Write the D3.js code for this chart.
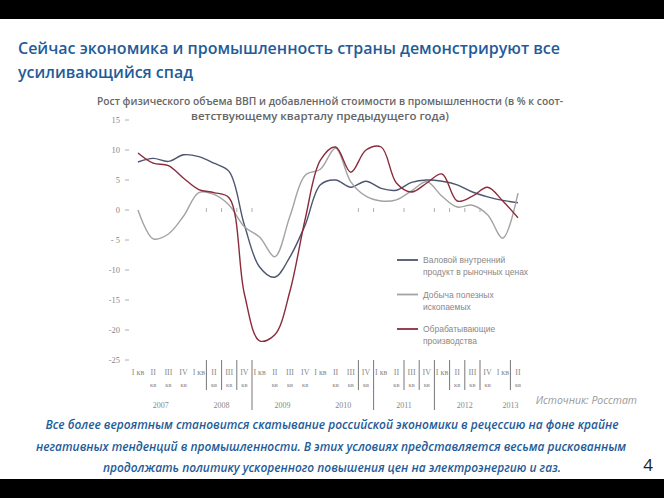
<!DOCTYPE html>
<html><head><meta charset="utf-8">
<script src="https://cdn.jsdelivr.net/npm/d3@7"></script>
<style>body{margin:0;background:#fff}svg{display:block}</style>
</head><body>
<svg id="c" width="664" height="498"></svg>
<script>
// ---------- data ----------
const quarters = ["I кв","II","III","IV","I кв","II","III","IV","I кв","II","III","IV","I кв","II","III","IV","I кв","II","III","IV","I кв","II","III","IV","I кв","II"];
const quarterSub = ["","кв","кв","кв","","кв","кв","кв","","кв","кв","кв","","кв","кв","кв","","кв","кв","кв","","кв","кв","кв","","кв"];
const years = ["2007","2008","2009","2010","2011","2012","2013"];
const gdp = [8.0,8.6,8.1,9.2,8.9,7.8,6.4,-2.5,-9.5,-11.2,-7.8,-2.5,4.2,5.0,3.8,4.8,3.6,3.3,4.6,5.0,4.8,4.2,3.0,2.2,1.6,1.2];
const mining = [0.0,-4.8,-4.0,-1.0,2.9,2.6,0.8,-2.8,-4.5,-7.8,-1.0,5.8,6.8,10.3,4.7,2.3,1.5,1.7,3.2,4.7,2.3,0.5,0.8,-0.8,-4.7,2.8];
const manuf = [9.5,7.8,7.4,5.3,3.4,2.9,2.0,-14.0,-21.8,-20.8,-13.5,-1.5,8.3,10.5,6.3,10.0,10.5,4.5,3.0,4.5,6.0,1.5,2.3,3.8,1.5,-1.3];
const seriesNames = [["Валовой внутренний","продукт в рыночных ценах"],["Добыча полезных","ископаемых"],["Обрабатывающие","производства"]];
const yTicks = [15,10,5,0,-5,-10,-15,-20,-25];
const yTickLabels = ["15","10","5","0","- 5","-10","-15","-20","-25"];
const separatorsAfter = [4,5,6,7,14,15,17,18,19,20,21,22,24];
const zeroTicksAfter = [4,5,6,7,14,15,17,19,20,21,22];

// ---------- layout ----------
const svg = d3.select("#c");
const W = 664, H = 498;
const blue = "#1f5c99";
const colors = ["#4d5570","#a3a3a3","#8a2c3c"];

svg.append("rect").attr("x",0).attr("y",0).attr("width",W).attr("height",19).attr("fill","#000");
svg.append("rect").attr("x",0).attr("y",479).attr("width",W).attr("height",19).attr("fill","#000");

const x = d3.scaleLinear().domain([0,quarters.length-1]).range([138,518]);
const y = d3.scaleLinear().domain([-25,15]).range([360,120]);

// titles
const title = svg.append("g").attr("font-family","'Open Sans', sans-serif").attr("font-weight",600).attr("fill",blue).attr("font-size",17);
title.append("text").attr("x",18).attr("y",54).attr("textLength",542).attr("lengthAdjust","spacingAndGlyphs").text("Сейчас экономика и промышленность страны демонстрируют все");
title.append("text").attr("x",18).attr("y",78).attr("textLength",175).attr("lengthAdjust","spacingAndGlyphs").text("усиливающийся спад");

const sub = svg.append("g").attr("font-family","'Open Sans', sans-serif").attr("font-weight",600).attr("fill","#666").attr("font-size",10.5);
sub.append("text").attr("x",97).attr("y",105).attr("textLength",466).attr("lengthAdjust","spacingAndGlyphs").text("Рост физического объема ВВП и добавленной стоимости в промышленности (в % к соот-");
sub.append("text").attr("x",191).attr("y",120).attr("textLength",258).attr("lengthAdjust","spacingAndGlyphs").text("ветствующему кварталу предыдущего года)");

// y axis
const ya = svg.append("g").attr("font-family","'Liberation Serif', serif").attr("font-size",8.5).attr("fill","#888");
yTicks.forEach((t,i)=>{
  ya.append("text").attr("x",120).attr("y",y(t)+3).attr("text-anchor","end").text(yTickLabels[i]);
  ya.append("line").attr("x1",125).attr("x2",129).attr("y1",y(t)).attr("y2",y(t)).attr("stroke","#999").attr("stroke-width",0.8);
});

// zero ticks
zeroTicksAfter.forEach(i=>{
  svg.append("line").attr("x1",x(i+0.5)).attr("x2",x(i+0.5)).attr("y1",y(0)-2).attr("y2",y(0)+2).attr("stroke","#999").attr("stroke-width",0.8);
});

// lines
const line = d3.line().x((d,i)=>x(i)).y(d=>y(d)).curve(d3.curveCatmullRom.alpha(0.5));
[gdp,mining,manuf].forEach((s,k)=>{
  svg.append("path").attr("d",line(s)).attr("fill","none").attr("stroke",colors[k]).attr("stroke-width",1.4);
});

// legend
const lg = svg.append("g").attr("font-family","'Liberation Sans', sans-serif").attr("font-size",8.5).attr("fill","#888");
seriesNames.forEach((nm,k)=>{
  const ly = 260 + k*34.5;
  lg.append("line").attr("x1",397).attr("x2",418).attr("y1",ly).attr("y2",ly).attr("stroke",colors[k]).attr("stroke-width",1.8);
  lg.append("text").attr("x",423).attr("y",ly+3).text(nm[0]);
  lg.append("text").attr("x",423).attr("y",ly+15).text(nm[1]);
});

// x axis labels
const xa = svg.append("g").attr("font-family","'Liberation Serif', serif").attr("fill","#888");
quarters.forEach((q,i)=>{
  xa.append("text").attr("x",x(i)).attr("y",375).attr("text-anchor","middle").attr("font-size",8).text(q);
  if(quarterSub[i]) xa.append("text").attr("x",x(i)).attr("y",387).attr("text-anchor","middle").attr("font-size",6.5).text(quarterSub[i]);
});
separatorsAfter.forEach(i=>{
  const longSep = Math.floor((i+1)/4)!==Math.floor(i/4);
  xa.append("line").attr("x1",x(i+0.5)).attr("x2",x(i+0.5)).attr("y1",360).attr("y2",longSep?410:390).attr("stroke","#777").attr("stroke-width",1);
});
years.forEach((yr,j)=>{
  const idx = d3.range(quarters.length).filter(i=>Math.floor(i/4)===j);
  xa.append("text").attr("x",x(d3.mean(idx))).attr("y",408).attr("text-anchor","middle").attr("font-size",8).text(yr);
});

// source
svg.append("text").attr("x",637).attr("y",404).attr("text-anchor","end").attr("font-family","'Open Sans', sans-serif").attr("font-style","italic").attr("font-size",10.5).attr("fill","#999").text("Источник: Росстат");

// bottom text
const bt = svg.append("g").attr("font-family","'Open Sans', sans-serif").attr("font-style","italic").attr("font-weight",600).attr("font-size",12).attr("fill",blue);
[["Все более вероятным становится скатывание российской экономики в рецессию на фоне крайне",332,573,429],
 ["негативных тенденций в промышленности. В этих условиях представляется весьма рискованным",331,590,451],
 ["продолжать политику ускоренного повышения цен на электроэнергию и газ.",332,458,472]].forEach(r=>{
  bt.append("text").attr("x",r[1]).attr("y",r[3]).attr("text-anchor","middle").attr("textLength",r[2]).attr("lengthAdjust","spacingAndGlyphs").text(r[0]);
});
svg.append("text").attr("x",648).attr("y",471).attr("text-anchor","middle").attr("font-family","'Open Sans', sans-serif").attr("font-size",17).attr("fill","#222").text("4");
</script>
</body></html>
